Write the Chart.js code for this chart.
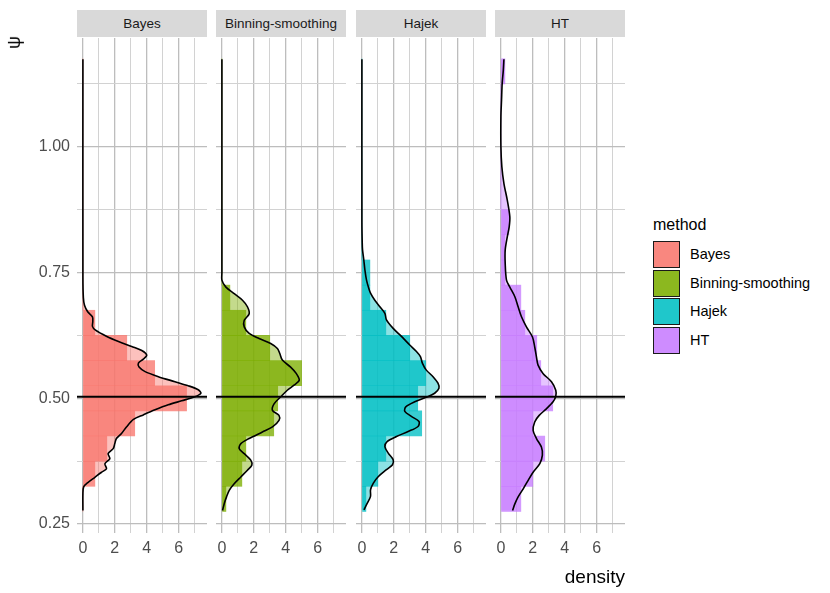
<!DOCTYPE html>
<html>
<head>
<meta charset="utf-8">
<script src="https://cdn.jsdelivr.net/npm/chart.js@4.4.1/dist/chart.umd.min.js"></script>
<style>
  body { margin: 0; background: #fff; font-family: "Liberation Sans", Arial, sans-serif; }
  #wrap { position: relative; width: 830px; height: 593px; overflow: hidden; }
  canvas { position: absolute; }
  .strip { position: absolute; top: 10px; height: 27px; background: #d9d9d9; color: #1a1a1a;
           font-size: 13.5px; line-height: 27px; text-align: center; }
  .lab { position: absolute; white-space: nowrap; }
  .key { position: absolute; left: 653px; width: 27px; height: 27px; box-sizing: border-box; border: 1.5px solid #1a1a1a; }
</style>
</head>
<body>
<div id="wrap"></div>
<script>
const methods = ["Bayes", "Binning-smoothing", "Hajek", "HT"];
const fills = ["#F8766D", "#7CAE00", "#00BFC4", "#C77CFF"];

// histogram bins (mid points of psi bins, width 0.05) and densities
const binMid = [0.30, 0.35, 0.40, 0.45, 0.50, 0.55, 0.60, 0.65, 0.70, 0.75, 0.80, 0.85, 0.90, 0.95, 1.00, 1.05, 1.10, 1.15];
const bayesHist   = [0, 0.75, 1.5, 3.25, 6.5, 4.5, 2.75, 0.75, 0, 0, 0, 0, 0, 0, 0, 0, 0, 0];
const binningHist = [0.25, 1.25, 1.5, 3.25, 3.5, 5.0, 3.0, 1.5, 0.5, 0, 0, 0, 0, 0, 0, 0, 0, 0];
const hajekHist   = [0.25, 1.0, 1.5, 3.75, 3.5, 4.0, 3.0, 1.5, 0.5, 0.5, 0, 0, 0, 0, 0, 0, 0, 0];
const htHist      = [1.25, 2.0, 2.75, 2.0, 3.25, 2.5, 2.25, 1.5, 1.25, 0.25, 0.25, 0.5, 0, 0, 0, 0, 0, 0.25];

// kernel density curves (psi, density)
const bayesPsi  = [1.174, 0.74, 0.70, 0.685, 0.672, 0.662, 0.652, 0.643, 0.636, 0.623, 0.613, 0.603, 0.595, 0.586, 0.578, 0.570, 0.562, 0.553, 0.543, 0.533, 0.525, 0.517, 0.510, 0.503, 0.495, 0.487, 0.477, 0.467, 0.458, 0.443, 0.430, 0.420, 0.410, 0.400, 0.390, 0.380, 0.370, 0.360, 0.353, 0.343, 0.333, 0.324, 0.311, 0.277];
const bayesDens = [0, 0, 0.03, 0.1, 0.3, 0.6, 0.62, 0.6, 0.77, 1.5, 2.23, 3.06, 3.69, 4.0, 3.79, 3.48, 3.52, 3.9, 4.73, 5.77, 6.6, 7.23, 7.4, 7.02, 6.19, 5.35, 4.52, 3.79, 3.17, 2.73, 2.42, 2.1, 2.0, 1.9, 1.58, 1.69, 1.38, 1.48, 1.17, 0.75, 0.33, 0.05, 0, 0];
const binningPsi  = [1.174, 0.75, 0.735, 0.721, 0.708, 0.695, 0.682, 0.668, 0.655, 0.642, 0.629, 0.619, 0.609, 0.599, 0.589, 0.576, 0.562, 0.549, 0.536, 0.526, 0.516, 0.503, 0.489, 0.476, 0.466, 0.456, 0.443, 0.433, 0.420, 0.410, 0.400, 0.390, 0.377, 0.367, 0.357, 0.344, 0.330, 0.317, 0.304, 0.291, 0.277];
const binningDens = [0, 0, 0, 0.25, 0.77, 1.29, 1.6, 1.71, 1.4, 1.4, 1.71, 2.33, 3.06, 3.48, 3.63, 3.79, 4.31, 4.67, 4.85, 4.52, 4.1, 3.69, 3.27, 3.17, 3.58, 3.58, 3.17, 2.54, 1.71, 1.19, 1.08, 1.4, 1.81, 1.875, 1.6, 1.2, 0.77, 0.46, 0.29, 0.15, 0.04];
const hajekPsi  = [1.174, 0.85, 0.81, 0.795, 0.775, 0.755, 0.735, 0.722, 0.709, 0.695, 0.682, 0.669, 0.656, 0.639, 0.623, 0.606, 0.593, 0.583, 0.570, 0.556, 0.543, 0.530, 0.520, 0.510, 0.502, 0.493, 0.483, 0.474, 0.464, 0.454, 0.444, 0.434, 0.424, 0.414, 0.404, 0.391, 0.378, 0.368, 0.358, 0.344, 0.331, 0.318, 0.305, 0.291, 0.278];
const hajekDens = [0, 0, 0.02, 0.04, 0.12, 0.19, 0.29, 0.4, 0.54, 0.81, 1.125, 1.44, 1.54, 1.96, 2.48, 3.0, 3.42, 3.67, 3.79, 4.04, 4.46, 4.77, 4.83, 4.56, 4.04, 3.31, 2.75, 2.69, 3.1, 3.58, 3.52, 2.9, 2.17, 1.58, 1.44, 1.65, 1.96, 1.92, 1.54, 1.02, 0.71, 0.54, 0.54, 0.33, 0.125];
const htPsi  = [1.174, 1.152, 1.126, 1.093, 1.06, 1.0, 0.96, 0.927, 0.894, 0.861, 0.841, 0.821, 0.795, 0.768, 0.735, 0.721, 0.702, 0.682, 0.662, 0.642, 0.622, 0.602, 0.582, 0.566, 0.549, 0.533, 0.516, 0.504, 0.493, 0.479, 0.466, 0.453, 0.436, 0.420, 0.403, 0.387, 0.370, 0.353, 0.337, 0.320, 0.304, 0.290, 0.277];
const htDens = [0.19, 0.15, 0.08, 0.04, 0, 0, 0.06, 0.19, 0.4, 0.56, 0.52, 0.4, 0.27, 0.27, 0.35, 0.56, 0.875, 1.08, 1.29, 1.6, 1.98, 2.12, 2.23, 2.33, 2.65, 3.17, 3.44, 3.44, 3.27, 2.85, 2.4, 2.12, 2.02, 2.23, 2.54, 2.6, 2.44, 2.02, 1.71, 1.4, 1.08, 0.875, 0.73];

const psiTrue = 0.503;

// axis ticks
const psiMajor = [0.25, 0.50, 0.75, 1.00];
const psiMinor = [0.375, 0.625, 0.875, 1.125];
const densMajor = [0, 2, 4, 6];
const densMinor = [1, 3, 5, 7];

const hists = [bayesHist, binningHist, hajekHist, htHist];
const curvesPsi = [bayesPsi, binningPsi, hajekPsi, htPsi];
const curvesDens = [bayesDens, binningDens, hajekDens, htDens];

const X_MIN = -0.37, X_MAX = 7.78, Y_MIN = 0.2322, Y_MAX = 1.2163;
const panelLeft = [77, 216, 356, 495];
const PW = 130, TOP = 38, CH = 540, XAXIS_H = 45;
const FONT = '"Liberation Sans", Arial, sans-serif';

Chart.defaults.font.family = FONT;

function rgba(hex, a) {
  const n = parseInt(hex.slice(1), 16);
  return `rgba(${n >> 16},${(n >> 8) & 255},${n & 255},${a})`;
}

const wrap = document.getElementById("wrap");
const psiGrid = psiMajor.concat(psiMinor).sort((a, b) => a - b);
const densGrid = densMajor.concat(densMinor).sort((a, b) => a - b);

// major vs minor grid styling
const isMajor = (list, c) => !!(c.tick && list.includes(c.tick.value));

methods.forEach((m, i) => {
  const first = i === 0;
  const cv = document.createElement("canvas");
  const w = first ? panelLeft[0] + PW : PW;
  cv.width = w; cv.height = CH;
  cv.style.left = (first ? 0 : panelLeft[i]) + "px";
  cv.style.top = TOP + "px";
  wrap.appendChild(cv);

  const strip = document.createElement("div");
  strip.className = "strip";
  strip.style.left = panelLeft[i] + "px";
  strip.style.width = PW + "px";
  strip.textContent = m;
  wrap.appendChild(strip);

  new Chart(cv, {
    type: "bar",
    data: {
      datasets: [
        {
          type: "line", order: -1,
          data: [{x: X_MIN, y: psiTrue}, {x: X_MAX, y: psiTrue}],
          borderColor: "#000", borderWidth: 2, pointRadius: 0, fill: false
        },
        {
          type: "line", order: 0,
          data: curvesPsi[i].map((p, k) => ({x: curvesDens[i][k], y: p})),
          borderColor: "#000", borderWidth: 1.6, pointRadius: 0, tension: 0.3,
          fill: "origin", backgroundColor: rgba(fills[i], 0.45)
        },
        {
          type: "bar", order: 1,
          data: binMid.map((p, k) => ({x: hists[i][k], y: p})),
          backgroundColor: rgba(fills[i], 0.78), borderWidth: 0,
          barPercentage: 1, categoryPercentage: 1
        }
      ]
    },
    options: {
      indexAxis: "y",
      responsive: false,
      animation: false,
      devicePixelRatio: 1,
      layout: {padding: 0},
      plugins: {legend: {display: false}, tooltip: {enabled: false}},
      scales: {
        x: {
          type: "linear", min: X_MIN, max: X_MAX, offset: false,
          afterBuildTicks: s => { s.ticks = densGrid.map(v => ({value: v})); },
          afterFit: s => { s.height = XAXIS_H; s.paddingLeft = 0; s.paddingRight = 0; },
          grid: {
            offset: false, drawTicks: false,
            color: c => isMajor(densMajor, c) ? "#bdbdbd" : "#d2d2d2",
            lineWidth: c => isMajor(densMajor, c) ? 1.3 : 1
          },
          border: {display: false},
          ticks: {
            autoSkip: false, maxRotation: 0, padding: 0, color: "#4d4d4d",
            font: {size: 16, lineHeight: 1.9},
            callback: v => densMajor.includes(v) ? String(v) : ""
          }
        },
        y: {
          type: "linear", min: Y_MIN, max: Y_MAX, offset: false,
          afterBuildTicks: s => { s.ticks = psiGrid.map(v => ({value: v})); },
          afterFit: s => { s.width = first ? panelLeft[0] : 0; s.paddingTop = 0; s.paddingBottom = 0; },
          grid: {
            offset: false, drawTicks: false,
            color: c => isMajor(psiMajor, c) ? "#bdbdbd" : "#d2d2d2",
            lineWidth: c => isMajor(psiMajor, c) ? 1.3 : 1
          },
          border: {display: false},
          ticks: {
            display: first, autoSkip: false, padding: 7, color: "#4d4d4d",
            font: {size: 16},
            callback: v => psiMajor.includes(v) ? v.toFixed(2) : ""
          }
        }
      }
    }
  });
});

// axis titles
const yTitle = document.createElement("div");
yTitle.className = "lab";
yTitle.style.cssText += "left:8px;top:32px;font-size:18px;transform:rotate(-90deg);";
yTitle.textContent = "ψ";
wrap.appendChild(yTitle);

const xTitle = document.createElement("div");
xTitle.className = "lab";
xTitle.style.cssText += `left:${panelLeft[3] + PW - 80}px;width:80px;text-align:right;top:566px;font-size:19px;`;
xTitle.textContent = "density";
wrap.appendChild(xTitle);

// legend
const lt = document.createElement("div");
lt.className = "lab";
lt.style.cssText += "left:653px;top:216px;font-size:16px;";
lt.textContent = "method";
wrap.appendChild(lt);
methods.forEach((m, i) => {
  const top = 241 + i * 28.5;
  const k = document.createElement("div");
  k.className = "key";
  k.style.top = top + "px";
  k.style.background = rgba(fills[i], 0.88);
  wrap.appendChild(k);
  const t = document.createElement("div");
  t.className = "lab";
  t.style.cssText += `left:690px;top:${top + 4}px;font-size:14.5px;line-height:19px;`;
  t.textContent = m;
  wrap.appendChild(t);
});
</script>
</body>
</html>
